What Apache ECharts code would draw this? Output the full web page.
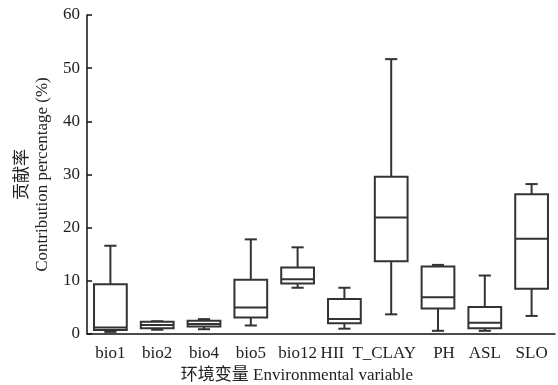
<!DOCTYPE html>
<html>
	<head>
		<meta charset="utf-8" />
		<title></title>
		<script src="https://cdn.jsdelivr.net/npm/echarts@6/dist/echarts.min.js"></script>
		<style>
			body{ margin: 0; background: #fff; }
			#chart{ width: 558px; height: 385px; }
		</style>
	</head>
	<body>
		<div id="chart"></div>
		<script>
			// 环境变量 (categories)
			var categories = ['bio1', 'bio2', 'bio4', 'bio5', 'bio12', 'HII', 'T_CLAY', 'PH', 'ASL', 'SLO'];
			// 箱线图五数
			var mins    = [0.4, 0.8, 0.9, 1.6,  8.7, 1.0,  3.7,  0.6, 0.6,  3.4];
			var q1s     = [0.75, 1.1, 1.4, 3.1, 9.5, 2.0, 13.7,  4.8, 1.1,  8.5];
			var medians = [1.2, 1.7, 1.9, 5.0, 10.3, 2.8, 21.9,  6.9, 2.1, 17.9];
			var q3s     = [9.35, 2.3, 2.5, 10.2, 12.5, 6.6, 29.6, 12.7, 5.1, 26.3];
			var maxs    = [16.6, 2.4, 2.8, 17.8, 16.3, 8.7, 51.7, 13.0, 11.0, 28.2];
			var yTicks  = [0, 10, 20, 30, 40, 50, 60];

			var fontFam = '"Liberation Serif", "Times New Roman", "Noto Sans CJK SC", serif';
			var lineCol = '#333';
			// 标签微调 (原图中部分标签略偏)
			var labelPad = { 'HII': [0, 24, 0, 0], 'T_CLAY': [0, 14, 0, 0], 'PH': [0, 0, 0, 12] };

			var data = categories.map(function(c, i){
				return [i, mins[i], q1s[i], medians[i], q3s[i], maxs[i]];
			});
			var xData = categories.map(function(c){
				return labelPad[c] ? { value: c, textStyle: { padding: labelPad[c] } } : c;
			});

			function renderBox(params, api){
				var i = api.value(0);
				var catW = api.size([1, 0])[0];
				var halfBox = catW * 0.35;
				var halfCap = catW * 0.13;
				var pMin = api.coord([i, api.value(1)]);
				var pQ1 = api.coord([i, api.value(2)]);
				var pMed = api.coord([i, api.value(3)]);
				var pQ3 = api.coord([i, api.value(4)]);
				var pMax = api.coord([i, api.value(5)]);
				var x = pMed[0];
				var st = { stroke: lineCol, lineWidth: 2, fill: null };
				return {
					type: 'group',
					children: [
						{ type: 'line', shape: { x1: x, y1: pQ3[1], x2: x, y2: pMax[1] }, style: st },
						{ type: 'line', shape: { x1: x, y1: pQ1[1], x2: x, y2: pMin[1] }, style: st },
						{ type: 'line', shape: { x1: x - halfCap, y1: pMax[1], x2: x + halfCap, y2: pMax[1] }, style: st },
						{ type: 'line', shape: { x1: x - halfCap, y1: pMin[1], x2: x + halfCap, y2: pMin[1] }, style: st },
						{ type: 'rect', shape: { x: x - halfBox, y: pQ3[1], width: halfBox * 2, height: pQ1[1] - pQ3[1] }, style: { stroke: lineCol, lineWidth: 2, fill: '#fff' } },
						{ type: 'line', shape: { x1: x - halfBox, y1: pMed[1], x2: x + halfBox, y2: pMed[1] }, style: st }
					]
				};
			}

			var chart = echarts.init(document.getElementById('chart'));
			var option = {
				animation: false,
				grid: { left: 87, right: 3, top: 15, bottom: 51, outerBoundsMode: 'none', containLabel: false },
				xAxis: {
					type: 'category',
					data: xData,
					boundaryGap: true,
					name: '环境变量 Environmental variable',
					nameLocation: 'middle',
					nameGap: 32,
					nameTextStyle: { fontFamily: fontFam, fontSize: 17, color: '#222', padding: [0, 48, 0, 0] },
					axisLine: { lineStyle: { color: '#111', width: 1.5 } },
					axisTick: { inside: true, length: 5, interval: 0, lineStyle: { color: '#111', width: 1.5 } },
					axisLabel: { interval: 0, margin: 11, fontFamily: fontFam, fontSize: 17, color: '#222' }
				},
				yAxis: {
					type: 'value',
					min: 0,
					max: 60,
					interval: 10,
					name: '贡献率\nContribution percentage (%)',
					nameLocation: 'middle',
					nameRotate: 90,
					nameGap: 34,
					nameTextStyle: { fontFamily: fontFam, fontSize: 17, color: '#222', lineHeight: 20 },
					splitLine: { show: false },
					axisLine: { show: true, lineStyle: { color: '#111', width: 1.5 } },
					axisTick: { show: true, inside: true, length: 5, lineStyle: { color: '#111', width: 1.5 } },
					axisLabel: {
						margin: 7, fontFamily: fontFam, fontSize: 17, color: '#222',
						formatter: function(v){ return yTicks.indexOf(v) >= 0 ? String(v) : ''; }
					}
				},
				series: [{
					type: 'custom',
					renderItem: renderBox,
					encode: { x: 0, y: [1, 2, 3, 4, 5] },
					data: data
				}]
			};
			chart.setOption(option);
		</script>
	</body>
</html>
